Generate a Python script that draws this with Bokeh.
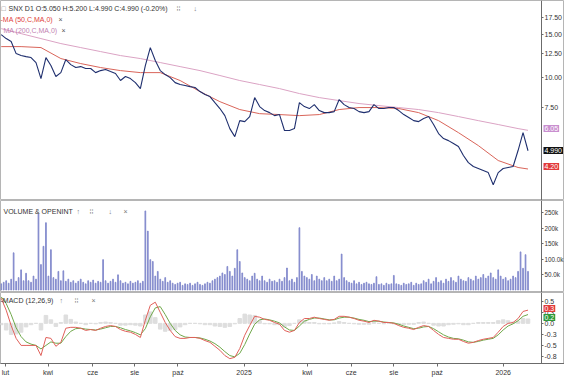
import pandas as pd
from bokeh.plotting import figure
from bokeh.layouts import column
from bokeh.models import Range1d, Label, FixedTicker, PrintfTickFormatter
from bokeh.embed import file_html
from bokeh.resources import INLINE

# ---------------- data ----------------
week_dates = pd.date_range("2024-01-26", periods=107, freq="7D")
vol_dates = pd.date_range("2024-01-26", periods=213, freq="84h")
ma_dates = list(week_dates[::4]) + [week_dates[-1]]

close = [14.93, 14.38, 13.98, 12.48, 12.25, 12.13, 12.02, 11.47, 9.86, 12.02,
         11.15, 10.05, 10.43, 11.80, 11.25, 10.94, 11.04, 10.84, 10.84, 10.43,
         10.63, 10.74, 10.53, 10.34, 9.68, 10.05, 9.86, 9.49, 8.97, 11.15,
         13.21, 11.69, 10.63, 10.24, 9.95, 9.49, 9.32, 9.23, 9.14, 9.06,
         8.72, 8.48, 8.32, 7.86, 7.43, 6.95, 6.15, 5.70, 6.63, 6.57,
         6.89, 8.24, 7.57, 7.29, 7.15, 6.95, 7.02, 6.04, 6.04, 6.15,
         7.86, 7.57, 7.43, 7.71, 7.29, 7.15, 7.15, 7.22, 8.09, 7.71,
         7.50, 7.43, 7.22, 7.15, 7.22, 7.71, 7.43, 7.43, 7.50, 7.50,
         7.29, 7.02, 6.83, 6.63, 6.57, 6.76, 6.89, 6.39, 5.87, 5.60,
         5.49, 5.34, 5.19, 4.77, 4.46, 4.30, 4.22, 4.14, 4.06, 3.62,
         4.06, 4.22, 4.26, 4.30, 5.00, 5.92, 4.99]

ma50 = [13.33, 13.33, 13.21, 11.91, 11.36, 10.94, 10.63, 10.43, 10.43, 9.68,
        8.72, 7.93, 7.36, 7.08, 7.02, 6.95, 7.02, 7.36, 7.50, 7.50,
        7.43, 7.15, 6.63, 5.92, 5.24, 4.55, 4.26, 4.20]
ma200 = [15.80, 15.07, 14.38, 13.72, 13.21, 12.72, 12.25, 11.91, 11.47, 11.04,
         10.63, 10.15, 9.68, 9.32, 8.97, 8.56, 8.24, 8.01, 7.79, 7.64,
         7.50, 7.36, 7.15, 6.89, 6.63, 6.39, 6.15, 6.05]

volume_k = [20, 25, 30, 22, 35, 120, 28, 40, 65, 30,
            54, 30, 25, 45, 35, 245, 82, 141, 217, 45,
            130, 40, 35, 60, 30, 62, 28, 35, 25, 30,
            22, 28, 35, 25, 20, 30, 25, 32, 22, 28,
            25, 98, 30, 22, 28, 35, 25, 49, 30, 22,
            25, 20, 28, 22, 25, 30, 22, 28, 255, 190,
            98, 92, 45, 60, 35, 28, 40, 25, 30, 22,
            18, 22, 25, 15, 20, 18, 22, 15, 20, 25,
            18, 15, 20, 25, 22, 30, 35, 40, 45, 55,
            50, 76, 60, 45, 70, 130, 92, 55, 40, 35,
            30, 45, 54, 35, 30, 45, 30, 25, 35, 28,
            30, 25, 35, 28, 40, 71, 30, 35, 25, 40,
            201, 60, 45, 40, 35, 50, 30, 45, 35, 30,
            40, 30, 35, 28, 45, 30, 35, 116, 40, 30,
            25, 22, 30, 20, 25, 18, 22, 25, 20, 18,
            22, 43, 18, 20, 15, 22, 18, 20, 47, 20,
            18, 15, 22, 18, 20, 25, 15, 22, 18, 20,
            30, 25, 35, 20, 28, 40, 25, 30, 22, 35,
            28, 40, 30, 25, 45, 35, 30, 28, 40, 35,
            30, 45, 35, 40, 50, 38, 45, 55, 40, 35,
            65, 45, 35, 40, 30, 35, 45, 40, 60, 123,
            70, 114, 60]
volume = [v * 1000 for v in volume_k]

macd = [0.57, 0.30, -0.05, -0.34, -0.50, -0.50, -0.50, -0.50, -0.73, -0.32,
        -0.34, -0.52, -0.43, -0.11, -0.09, -0.09, -0.11, -0.16, -0.14, -0.16,
        -0.11, -0.07, -0.05, -0.07, -0.14, -0.18, -0.20, -0.25, -0.32, 0.07,
        0.41, 0.48, 0.25, 0.02, -0.16, -0.30, -0.34, -0.34, -0.32, -0.32,
        -0.34, -0.39, -0.43, -0.52, -0.61, -0.73, -0.80, -0.77, -0.57, -0.27,
        -0.05, 0.16, 0.14, 0.09, 0.07, 0.02, -0.02, -0.16, -0.20, -0.16,
        0.02, 0.11, 0.11, 0.14, 0.11, 0.09, 0.07, 0.09, 0.16, 0.16,
        0.14, 0.11, 0.07, 0.05, 0.02, 0.07, 0.05, 0.02, 0.02, 0.00,
        -0.05, -0.09, -0.11, -0.14, -0.09, -0.05, -0.07, -0.16, -0.25, -0.32,
        -0.34, -0.36, -0.36, -0.41, -0.45, -0.43, -0.39, -0.36, -0.34, -0.32,
        -0.20, -0.07, 0.00, 0.02, 0.11, 0.27, 0.30]
signal = [0.60, 0.45, 0.20, -0.10, -0.30, -0.42, -0.47, -0.50, -0.58, -0.50,
          -0.42, -0.45, -0.45, -0.30, -0.18, -0.12, -0.11, -0.13, -0.14, -0.15,
          -0.13, -0.10, -0.07, -0.07, -0.10, -0.14, -0.17, -0.21, -0.26, -0.12,
          0.15, 0.35, 0.38, 0.20, 0.00, -0.16, -0.26, -0.31, -0.32, -0.32,
          -0.33, -0.36, -0.40, -0.46, -0.54, -0.64, -0.73, -0.76, -0.68, -0.48,
          -0.24, -0.02, 0.08, 0.10, 0.08, 0.05, 0.01, -0.08, -0.15, -0.16,
          -0.06, 0.05, 0.09, 0.12, 0.12, 0.10, 0.08, 0.08, 0.12, 0.14,
          0.14, 0.12, 0.09, 0.07, 0.04, 0.05, 0.05, 0.03, 0.02, 0.01,
          -0.02, -0.06, -0.09, -0.12, -0.11, -0.08, -0.07, -0.12, -0.19, -0.26,
          -0.31, -0.34, -0.35, -0.38, -0.42, -0.43, -0.41, -0.38, -0.36, -0.34,
          -0.26, -0.15, -0.06, -0.01, 0.06, 0.16, 0.20]
hist = [-0.03, -0.15, -0.25, -0.24, -0.20, -0.08, -0.03, 0.00, -0.15, 0.18,
        0.08, -0.07, 0.02, 0.19, 0.09, 0.03, 0.00, -0.03, 0.00, -0.01,
        0.02, 0.03, 0.02, 0.00, -0.04, -0.04, -0.03, -0.04, -0.06, 0.19,
        0.26, 0.13, -0.13, -0.18, -0.16, -0.14, -0.08, -0.03, 0.00, 0.00,
        -0.01, -0.03, -0.03, -0.06, -0.07, -0.09, -0.07, -0.01, 0.11, 0.21,
        0.19, 0.18, 0.06, -0.01, -0.01, -0.03, -0.03, -0.08, -0.05, 0.00,
        0.08, 0.06, 0.02, 0.02, -0.01, -0.01, -0.01, 0.01, 0.04, 0.02,
        0.00, -0.01, -0.02, -0.02, -0.02, 0.02, 0.00, -0.01, 0.00, -0.01,
        -0.03, -0.03, -0.02, -0.02, 0.02, 0.03, 0.00, -0.04, -0.06, -0.06,
        -0.03, -0.02, -0.01, -0.03, -0.03, 0.00, 0.02, 0.02, 0.02, 0.02,
        0.06, 0.08, 0.06, 0.03, 0.05, 0.11, 0.10]

price_ticks = [7.5, 10.0, 12.5, 15.0, 17.5]
vol_ticks = [50000, 100000, 150000, 200000, 250000]
vol_tick_labels = ["50.0k", "100.0k", "150k", "200k", "250k"]
macd_ticks = [-0.75, -0.5, -0.25, 0.0, 0.25, 0.5]
macd_tick_labels = ["-0.8", "-0.5", "-0.3", "0.0", "0.3", "0.5"]
x_tick_dates = ["2024-02-01", "2024-04-01", "2024-06-03", "2024-08-01", "2024-10-01",
                "2025-01-02", "2025-04-01", "2025-06-02", "2025-08-01", "2025-10-01",
                "2026-01-02"]
x_tick_labels = ["lut", "kwi", "cze", "sie", "paź", "2025", "kwi", "cze", "sie", "paź", "2026"]

price_tags = ["6.05", "4.990", "4.20"]
macd_tags = ["0.3", "0.2"]

header = "SNX D1 O:5.050 H:5.200 L:4.990 C:4.990 (-0.20%)"

# ---------------- styling ----------------
FONT = "Liberation Sans"
AXIS_COL = "#6b6b6b"
TXT_COL = "#333333"
W = 564
AXIS_PX = 541  # pixel column of the price axis

x_start = pd.Timestamp("2024-01-25")
axis_date = pd.Timestamp("2026-02-25")
x_end = x_start + (axis_date - x_start) * (W / AXIS_PX)
xr = Range1d(x_start, x_end)
axis_ms = float(axis_date.value // 10**6)


def make_fig(h, yr, y_type="linear", xloc=None, bottom=0, label_size="7px"):
    p = figure(width=W, height=h, x_range=xr, y_range=yr, y_axis_type=y_type,
               x_axis_type="datetime", x_axis_location=xloc, y_axis_location="right",
               output_backend="svg", toolbar_location=None,
               min_border_left=0, min_border_right=0, min_border_top=0,
               min_border_bottom=bottom)
    p.xgrid.visible = False
    p.ygrid.visible = False
    p.outline_line_color = "#b5b5b5"
    p.background_fill_color = "white"
    p.border_fill_color = "white"
    ax = p.yaxis[0]
    ax.fixed_location = axis_ms
    ax.axis_line_color = AXIS_COL
    ax.major_tick_line_color = AXIS_COL
    ax.major_tick_out = 2
    ax.major_tick_in = 0
    ax.minor_tick_line_color = None
    ax.major_label_text_font = FONT
    ax.major_label_text_font_size = label_size
    ax.major_label_text_color = TXT_COL
    ax.major_label_standoff = 1
    return p


def lab(p, x, y, text, color=TXT_COL, size="7px", bg=None):
    p.add_layout(Label(x=x, y=y, x_units="screen", y_units="screen", text=text,
                       text_font=FONT, text_font_size=size, text_color=color,
                       text_baseline="middle", text_align="left",
                       background_fill_color=bg, padding=1 if bg else 0))


# ---------------- main price panel ----------------
H1 = 200
p1 = make_fig(H1, Range1d(3.12, 20.6), y_type="log")
p1.yaxis.ticker = FixedTicker(ticks=price_ticks)
p1.yaxis.formatter = PrintfTickFormatter(format="%.2f")
p1.line(ma_dates, ma200, color="#dba3c4", line_width=1)
p1.line(ma_dates, ma50, color="#d9655a", line_width=1)
p1.line(week_dates, close, color="#1f2f6e", line_width=1.1)

lab(p1, 1, H1 - 8, "\u25a1", color="#777777")
lab(p1, 8, H1 - 8, header)
lab(p1, 176, H1 - 8, "\u205e\u205e", color="#777777")
lab(p1, 193, H1 - 8, "\u2193", color="#777777")
lab(p1, 0, H1 - 19, "-MA (50,C,MA,0)", color="#e0403a")
lab(p1, 58, H1 - 19, "\u00d7", color="#555555")
lab(p1, 3, H1 - 30, "MA (200,C,MA,0)", color="#c27fb0")
lab(p1, 61, H1 - 30, "\u00d7", color="#555555")
for yy, t, c in zip([128, 150, 166], price_tags, ["#c98fcf", "#111111", "#e23b3b"]):
    lab(p1, 543, H1 - yy, t, color="white", bg=c)

# ---------------- volume panel ----------------
H2 = 92
p2 = make_fig(H2, Range1d(-8000, 288700), label_size="6.3px")
p2.yaxis.ticker = FixedTicker(ticks=vol_ticks)
p2.yaxis.major_label_overrides = {float(t): s for t, s in zip(vol_ticks, vol_tick_labels)}
p2.vbar(x=vol_dates, top=volume, bottom=0, width=1.1 * 86400000,
        color="#7a82c9", alpha=0.8)
lab(p2, 3, H2 - 11, "VOLUME & OPENINT")
lab(p2, 76, H2 - 11, "\u2191", color="#777777")
lab(p2, 89, H2 - 11, "\u205e\u205e", color="#777777")
lab(p2, 108, H2 - 11, "\u2193", color="#777777")
lab(p2, 123, H2 - 11, "\u00d7", color="#777777")

# ---------------- MACD panel ----------------
H3 = 88
B3 = 17
p3 = make_fig(H3, Range1d(-0.91, 0.70), xloc="below", bottom=B3)
p3.yaxis.ticker = FixedTicker(ticks=macd_ticks)
p3.yaxis.major_label_overrides = {float(t): s for t, s in zip(macd_ticks, macd_tick_labels)}
p3.vbar(x=week_dates, top=hist, bottom=0, width=5 * 86400000, color="#dedede")
p3.line(week_dates, signal, color="#6fa84a", line_width=1)
p3.line(week_dates, macd, color="#e0605a", line_width=1)
xa = p3.xaxis[0]
tick_ms = [float(pd.Timestamp(d).value // 10**6) for d in x_tick_dates]
xa.ticker = FixedTicker(ticks=tick_ms)
xa.major_label_overrides = {t: s for t, s in zip(tick_ms, x_tick_labels)}
xa.axis_line_color = AXIS_COL
xa.major_tick_line_color = AXIS_COL
xa.major_tick_out = 3
xa.major_tick_in = 0
xa.minor_tick_line_color = None
xa.major_label_text_font = FONT
xa.major_label_text_font_size = "7px"
xa.major_label_text_color = TXT_COL
xa.major_label_standoff = 2

FH3 = H3 - B3
lab(p3, 0, FH3 - 8, "-MACD (12,26,9)")
lab(p3, 59, FH3 - 8, "\u2191", color="#777777")
lab(p3, 74, FH3 - 8, "\u205e\u205e", color="#777777")
lab(p3, 91, FH3 - 8, "\u00d7", color="#777777")
for yy, t, c in zip([16, 25], macd_tags, ["#e23b3b", "#2e9a3a"]):
    lab(p3, 543, FH3 - yy, t, color="white", bg=c)

layout = column(p1, p2, p3, spacing=0)
open("out.html", "w").write(file_html(layout, INLINE))
